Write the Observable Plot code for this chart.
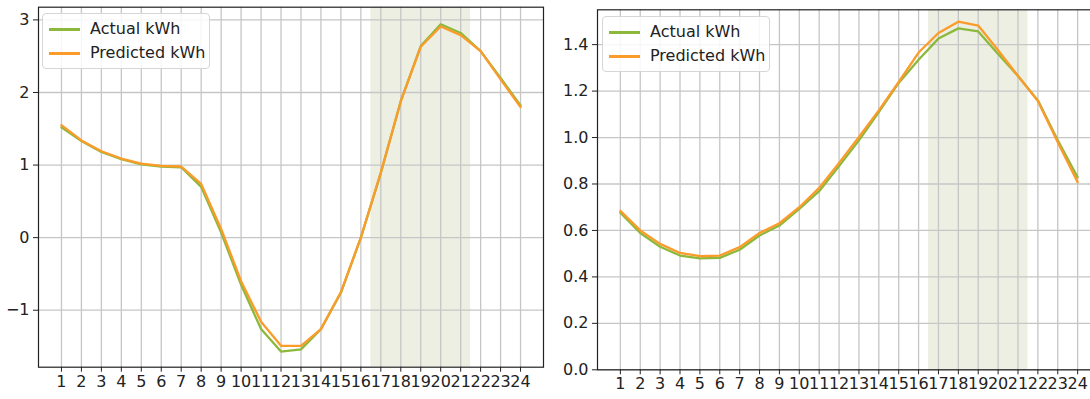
<!DOCTYPE html>
<html>
<head>
<meta charset="utf-8">
<script src="https://cdn.jsdelivr.net/npm/d3@7"></script>
<script src="https://cdn.jsdelivr.net/npm/@observablehq/plot@0.6"></script>
<style>
  html, body { margin: 0; padding: 0; background: white; }
  #wrap { position: relative; width: 1090px; height: 399px; overflow: hidden; background: white; }
  .panel { position: absolute; top: 0; }
  .legend { position: absolute; box-sizing: border-box; width: 168px; height: 56px;
    border: 1px solid #d6d6d6; border-radius: 4px; background: rgba(255,255,255,0.85);
    font-family: "DejaVu Sans", sans-serif; font-size: 16px; color: #222; }
  .legend .row { position: absolute; left: 0; height: 20px; width: 100%; }
  .legend .swatch { position: absolute; left: 6px; top: 9px; width: 31px; height: 2.8px; }
  .legend .lab { position: absolute; left: 47px; top: 0; line-height: 20px; white-space: nowrap; }
</style>
</head>
<body>
<div id="wrap"></div>
<script>
// ---- data ----
const hours = [1,2,3,4,5,6,7,8,9,10,11,12,13,14,15,16,17,18,19,20,21,22,23,24];
const seriesNames = ["Actual kWh", "Predicted kWh"];
const leftActual = [1.52,1.33,1.18,1.08,1.01,0.98,0.97,0.70,0.07,-0.65,-1.26,-1.57,-1.54,-1.26,-0.76,0.00,0.89,1.88,2.64,2.94,2.82,2.57,2.20,1.82];
const leftPredicted = [1.55,1.34,1.19,1.09,1.02,0.99,0.98,0.74,0.12,-0.60,-1.16,-1.49,-1.49,-1.26,-0.75,0.00,0.90,1.88,2.63,2.91,2.79,2.57,2.18,1.80];
const rightActual = [0.676,0.589,0.530,0.492,0.480,0.482,0.517,0.578,0.621,0.693,0.769,0.877,0.988,1.110,1.235,1.335,1.426,1.470,1.457,1.360,1.265,1.160,0.988,0.829];
const rightPredicted = [0.684,0.600,0.542,0.503,0.489,0.492,0.528,0.589,0.631,0.700,0.783,0.891,1.002,1.117,1.239,1.366,1.450,1.499,1.482,1.376,1.265,1.157,0.980,0.808];
const shadeSpan = [16.5, 21.5];
const leftYTicks = [-1, 0, 1, 2, 3];
const rightYTicks = [0.0, 0.2, 0.4, 0.6, 0.8, 1.0, 1.2, 1.4];

const colors = {"Actual kWh": "#8cb83c", "Predicted kWh": "#fb9b2a"};
const gridColor = "#c6c6c6";
const shadeColor = "#edefe3";

function toRows(actual, predicted) {
  const rows = [];
  hours.forEach((h, i) => rows.push({hour: h, value: actual[i], series: seriesNames[0]}));
  hours.forEach((h, i) => rows.push({hour: h, value: predicted[i], series: seriesNames[1]}));
  return rows;
}

function panel({rows, yDomain, yTicks, yFormat, width, marginLeft, marginRight, marginTop, marginBottom}) {
  return Plot.plot({
    width, height: 399,
    marginLeft, marginRight, marginTop, marginBottom,
    style: {fontFamily: "DejaVu Sans, sans-serif", fontSize: "16px", color: "#222", background: "white", overflow: "visible"},
    x: {domain: [-0.15, 25.15], label: null},
    y: {domain: yDomain, label: null},
    marks: [
      Plot.rect([{x1: shadeSpan[0], x2: shadeSpan[1]}], {x1: "x1", x2: "x2", fill: shadeColor}),
      Plot.gridX(hours, {stroke: gridColor, strokeOpacity: 1, strokeWidth: 1.3}),
      Plot.gridY(yTicks, {stroke: gridColor, strokeOpacity: 1, strokeWidth: 1.3}),
      Plot.line(rows.filter(d => d.series === seriesNames[0]), {x: "hour", y: "value", stroke: colors[seriesNames[0]], strokeWidth: 2.3}),
      Plot.line(rows.filter(d => d.series === seriesNames[1]), {x: "hour", y: "value", stroke: colors[seriesNames[1]], strokeWidth: 2.3}),
      Plot.frame({stroke: "#222", strokeWidth: 1.2}),
      Plot.axisX(hours, {label: null, tickSize: 5, tickPadding: 3, tickFormat: d => String(d), stroke: "#222", fill: "#222"}),
      Plot.axisY(yTicks, {label: null, tickSize: 5, tickPadding: 4, tickFormat: yFormat, stroke: "#222", fill: "#222"})
    ]
  });
}

function legend(left, top) {
  const lg = document.createElement("div");
  lg.className = "legend";
  lg.style.left = left + "px";
  lg.style.top = top + "px";
  seriesNames.forEach((name, i) => {
    const row = document.createElement("div");
    row.className = "row";
    row.style.top = (5 + i * 24) + "px";
    const sw = document.createElement("div");
    sw.className = "swatch";
    sw.style.background = colors[name];
    const lab = document.createElement("div");
    lab.className = "lab";
    lab.textContent = name;
    row.appendChild(sw); row.appendChild(lab);
    lg.appendChild(row);
  });
  return lg;
}

const wrap = document.getElementById("wrap");
const minusFmt = d => d < 0 ? "\u2212" + Math.abs(d) : String(d);

const left = panel({rows: toRows(leftActual, leftPredicted), yDomain: [-1.785, 3.175], yTicks: leftYTicks, yFormat: minusFmt,
  width: 545, marginLeft: 38, marginRight: 2, marginTop: 6.7, marginBottom: 32.3});
left.classList.add("panel"); left.style.left = "0px";
wrap.appendChild(left);

const right = panel({rows: toRows(rightActual, rightPredicted), yDomain: [0, 1.55], yTicks: rightYTicks, yFormat: d3.format(".1f"),
  width: 565, marginLeft: 52, marginRight: 10, marginTop: 9.3, marginBottom: 29.7});
right.classList.add("panel"); right.style.left = "545px";
wrap.appendChild(right);

wrap.appendChild(legend(42, 13));
wrap.appendChild(legend(602, 16));
</script>
</body>
</html>
